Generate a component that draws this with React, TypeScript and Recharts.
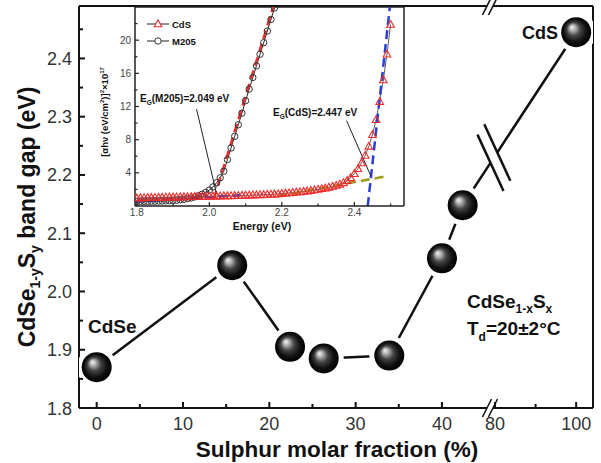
import React from 'react';
import { ComposedChart, Line, XAxis, YAxis, ReferenceLine } from 'recharts';

// main panel: band gap vs sulphur molar fraction
const sulphur = [0, 15.7, 22.4, 26.3, 33.9, 40, 42.4, 100];
const bandGap = [1.87, 2.045, 1.905, 1.885, 1.89, 2.057, 2.148, 2.445];
const xTickMajor = [0, 10, 20, 30, 40, 80, 100];
const xTickMinor = [5, 15, 25, 35, 90];
const yTickMajor = [1.8, 1.9, 2.0, 2.1, 2.2, 2.3, 2.4];
const yTickMinor = [1.85, 1.95, 2.05, 2.15, 2.25, 2.35, 2.45];

// inset: Tauc plot
const energyCdS = [
  1.8, 1.81, 1.82, 1.83, 1.84, 1.85, 1.86, 1.87, 1.88, 1.89, 1.9,
  1.91, 1.92, 1.93, 1.94, 1.95, 1.96, 1.97, 1.98, 1.99, 2.0,
  2.01, 2.02, 2.03, 2.04, 2.05, 2.06, 2.07, 2.08, 2.09, 2.1,
  2.11, 2.12, 2.13, 2.14, 2.15, 2.16, 2.17, 2.18, 2.19, 2.2,
  2.21, 2.22, 2.23, 2.24, 2.25, 2.26, 2.27, 2.28, 2.29, 2.3,
  2.31, 2.32, 2.33, 2.34, 2.35, 2.36, 2.37, 2.38, 2.39, 2.4,
  2.41, 2.42, 2.43, 2.44, 2.45, 2.46, 2.47, 2.48, 2.49, 2.5,
];
const tauCdS = [
  0.95, 0.97, 0.99, 1.0, 1.01, 1.02, 1.03, 1.04, 1.05, 1.06, 1.07,
  1.08, 1.09, 1.1, 1.11, 1.12, 1.13, 1.14, 1.15, 1.16, 1.17,
  1.18, 1.19, 1.2, 1.21, 1.22, 1.23, 1.25, 1.26, 1.27, 1.29,
  1.3, 1.32, 1.33, 1.35, 1.37, 1.39, 1.41, 1.43, 1.45, 1.5,
  1.55, 1.58, 1.62, 1.66, 1.7, 1.75, 1.8, 1.86, 1.93, 2.0,
  2.08, 2.16, 2.25, 2.36, 2.48, 2.62, 2.8, 3.05, 3.4, 3.9,
  4.5, 5.2, 6.1, 7.2, 8.6, 10.4, 12.6, 15.2, 18.3, 21.9,
];
const energyM205 = [
  1.8, 1.81, 1.82, 1.83, 1.84, 1.85, 1.86, 1.87, 1.88, 1.89,
  1.9, 1.91, 1.92, 1.93, 1.94, 1.95, 1.96, 1.97, 1.98, 1.99,
  2.0, 2.01, 2.02, 2.03, 2.04, 2.05, 2.06, 2.07, 2.08, 2.09,
  2.1, 2.11, 2.12, 2.13, 2.14, 2.15, 2.16, 2.17, 2.18,
];
const tauM205 = [
  0.55, 0.55, 0.56, 0.56, 0.57, 0.58, 0.59, 0.6, 0.62, 0.64,
  0.67, 0.7, 0.75, 0.81, 0.89, 0.98, 1.1, 1.24, 1.42, 1.64,
  1.92, 2.3, 2.8, 3.4, 4.2, 5.6, 7.0, 8.4, 9.8, 11.2,
  12.7, 14.1, 15.5, 16.9, 18.3, 19.7, 21.1, 22.5, 23.9,
];
// linear fits drawn as dashed lines [start, end]
const fitM205E = [2.012, 2.176];
const fitM205V = [0.8, 24];
const baseM205E = [1.795, 2.085];
const baseM205V = [0.5, 1.3];
const baseCdSE = [2.19, 2.49];
const baseCdSV = [1.2, 3.6];
const fitCdSE = [2.437, 2.498];
const fitCdSV = [0, 24];
const insetXTicks = [1.8, 1.9, 2.0, 2.1, 2.2, 2.3, 2.4, 2.5];
const insetXLabels = ['1.8', '', '2.0', '', '2.2', '', '2.4', ''];
const insetYTicks = [2, 4, 6, 8, 10, 12, 14, 16, 18, 20, 22];

const FONT = '"Liberation Sans", Arial, Helvetica, sans-serif';

// broken x axis: 0..45 linear, then 80..100 compressed
const pos = (s: number) => (s <= 50 ? s : 46.15 + (s - 80) * 0.47);

const LEFT = 79, RIGHT = 593, TOP = 6, BOTTOM = 408;
const XD = [-2.05, 57.5];
const YD = [1.8, 2.49];
const mx = (p: number) => LEFT + ((p - XD[0]) * (RIGHT - LEFT)) / (XD[1] - XD[0]);
const my = (v: number) => BOTTOM - ((v - YD[0]) * (BOTTOM - TOP)) / (YD[1] - YD[0]);
const px2p = (x: number) => XD[0] + ((x - LEFT) * (XD[1] - XD[0])) / (RIGHT - LEFT);
const py2v = (y: number) => YD[0] + ((BOTTOM - y) * (YD[1] - YD[0])) / (BOTTOM - TOP);

const mainData = sulphur.map((s, i) => ({ pos: pos(s), gap: bandGap[i] }));
const lowData = mainData.slice(0, 7);
const highData = mainData.slice(6);

const xTickInfo = [
  ...xTickMajor.map((v) => ({ pos: pos(v), label: String(v), major: true })),
  ...xTickMinor.map((v) => ({ pos: pos(v), label: '', major: false })),
];

// gap in the last segment
const P = { x: mx(highData[0].pos), y: my(highData[0].gap) };
const Q = { x: mx(highData[1].pos), y: my(highData[1].gap) };
const segLen = Math.hypot(Q.x - P.x, Q.y - P.y);
const T1 = 0.245, T2 = 0.305;
const segDash = `${T1 * segLen} ${(T2 - T1) * segLen} ${segLen}`;
const slash = (t: number, half: number) => {
  const cx = P.x + (Q.x - P.x) * t;
  const cy = P.y + (Q.y - P.y) * t;
  const dx = 0.42 * half, dy = 0.91 * half;
  return [
    { x: px2p(cx - dx), y: py2v(cy - dy) },
    { x: px2p(cx + dx), y: py2v(cy + dy) },
  ];
};
const axisSlash = (cx: number, cy: number) => [
  { x: px2p(cx - 4.5), y: py2v(cy + 9) },
  { x: px2p(cx + 4.5), y: py2v(cy - 9) },
];
const BREAK_A = 487, BREAK_B = 493;

const Ball = (props: any) => {
  const { cx, cy } = props;
  if (cx == null || cy == null) return null;
  return (
    <g>
      <circle cx={cx} cy={cy} r={20} fill="#fff" />
      <circle cx={cx} cy={cy} r={15} fill="url(#ballGrad)" />
    </g>
  );
};

const MainXTick = (props: any) => {
  const { x, y, payload } = props;
  const info = xTickInfo.find((t) => Math.abs(t.pos - payload.value) < 1e-6);
  if (!info) return null;
  return (
    <g>
      <line x1={x} y1={y} x2={x} y2={y - (info.major ? 6 : 4)} stroke="#111" strokeWidth={2} />
      {info.major && (
        <text x={x} y={y + 22} textAnchor="middle" fontSize={18} fill="#333" fontFamily={FONT}>
          {info.label}
        </text>
      )}
    </g>
  );
};

const MainYTick = (props: any) => {
  const { x, y, payload } = props;
  const major = yTickMajor.some((v) => Math.abs(v - payload.value) < 1e-6);
  return (
    <g>
      <line x1={x} y1={y} x2={x + (major ? 6 : 4)} y2={y} stroke="#111" strokeWidth={2} />
      {major && (
        <text x={x - 7} y={y + 6.5} textAnchor="end" fontSize={18} fill="#333" fontFamily={FONT}>
          {payload.value.toFixed(1)}
        </text>
      )}
    </g>
  );
};

const InsetXTick = (props: any) => {
  const { x, y, index } = props;
  const label = insetXLabels[index] ?? '';
  return (
    <g>
      <line x1={x} y1={y} x2={x} y2={y - (label ? 4 : 2.5)} stroke="#222" strokeWidth={1.2} />
      {label && (
        <text x={x} y={y + 10} textAnchor="middle" fontSize={10} fill="#444" fontFamily={FONT}>
          {label}
        </text>
      )}
    </g>
  );
};

const InsetYTick = (props: any) => {
  const { x, y, payload } = props;
  const major = payload.value % 4 === 0;
  return (
    <g>
      <line x1={x} y1={y} x2={x + (major ? 4 : 2.5)} y2={y} stroke="#222" strokeWidth={1.2} />
      {major && (
        <text x={x - 4} y={y + 3.5} textAnchor="end" fontSize={10} fill="#444" fontFamily={FONT}>
          {payload.value}
        </text>
      )}
    </g>
  );
};

const Triangle = (props: any) => {
  const { cx, cy } = props;
  if (cx == null || cy == null) return null;
  return (
    <polygon
      points={`${cx},${cy - 4} ${cx - 3.8},${cy + 2.8} ${cx + 3.8},${cy + 2.8}`}
      fill="none"
      stroke="#ee2a2a"
      strokeWidth={1.1}
    />
  );
};

const Ring = (props: any) => {
  const { cx, cy } = props;
  if (cx == null || cy == null) return null;
  return <circle cx={cx} cy={cy} r={3.2} fill="none" stroke="#333" strokeWidth={1} />;
};

const cdsData = energyCdS.map((e, i) => ({ e, v: tauCdS[i] }));
const m205Data = energyM205.map((e, i) => ({ e, v: tauM205[i] }));
const pair = (es: number[], vs: number[]) => es.map((e, i) => ({ e, v: vs[i] }));

const InsetChart = () => (
  <ComposedChart width={320} height={235} margin={{ top: 7, right: 11, bottom: 0, left: 0 }}>
    <XAxis
      type="number"
      dataKey="e"
      domain={[1.795, 2.537]}
      ticks={insetXTicks}
      interval={0}
      allowDataOverflow
      tickSize={0}
      tickMargin={0}
      height={29}
      tick={<InsetXTick />}
      axisLine={{ stroke: '#222', strokeWidth: 1.5 }}
    />
    <YAxis
      type="number"
      domain={[0, 24]}
      ticks={insetYTicks}
      interval={0}
      allowDataOverflow
      tickSize={0}
      tickMargin={0}
      width={40}
      tick={<InsetYTick />}
      axisLine={{ stroke: '#222', strokeWidth: 1.5 }}
    />
    <ReferenceLine y={24} stroke="#222" strokeWidth={1.5} ifOverflow="visible" />
    <ReferenceLine x={2.537} stroke="#222" strokeWidth={1.5} ifOverflow="visible" />
    <Line data={m205Data} dataKey="v" type="linear" stroke="#222" strokeWidth={1} dot={<Ring />} activeDot={false} isAnimationActive={false} />
    <Line data={cdsData} dataKey="v" type="linear" stroke="#333" strokeWidth={0.8} dot={<Triangle />} activeDot={false} isAnimationActive={false} />
    <Line data={pair(baseM205E, baseM205V)} dataKey="v" type="linear" stroke="#2a3fd2" strokeWidth={2.5} strokeDasharray="9 5" dot={false} activeDot={false} isAnimationActive={false} />
    <Line data={pair(fitM205E, fitM205V)} dataKey="v" type="linear" stroke="#e53030" strokeWidth={2.5} strokeDasharray="9 5" dot={false} activeDot={false} isAnimationActive={false} />
    <Line data={pair(baseCdSE, baseCdSV)} dataKey="v" type="linear" stroke="#9c9c1e" strokeWidth={2.5} strokeDasharray="9 5" dot={false} activeDot={false} isAnimationActive={false} />
    <Line data={pair(fitCdSE, fitCdSV)} dataKey="v" type="linear" stroke="#2a3fd2" strokeWidth={2.5} strokeDasharray="9 5" dot={false} activeDot={false} isAnimationActive={false} />
    <ReferenceLine segment={[{ x: 1.9647, y: 11.7 }, { x: 2.0198, y: 1.5 }]} stroke="#222" strokeWidth={1} ifOverflow="visible" />
    <ReferenceLine segment={[{ x: 2.3785, y: 10.3 }, { x: 2.4447, y: 3.7 }]} stroke="#222" strokeWidth={1} ifOverflow="visible" />
  </ComposedChart>
);

const MainChart = () => (
  <ComposedChart width={601} height={463} margin={{ top: TOP, right: 601 - RIGHT, bottom: 0, left: 0 }}>
    <XAxis
      type="number"
      dataKey="pos"
      domain={XD}
      ticks={xTickInfo.map((t) => t.pos)}
      interval={0}
      allowDataOverflow
      tickSize={0}
      tickMargin={0}
      height={463 - BOTTOM}
      tick={<MainXTick />}
      axisLine={false}
    />
    <YAxis
      type="number"
      domain={YD}
      ticks={[...yTickMajor, ...yTickMinor]}
      interval={0}
      allowDataOverflow
      tickSize={0}
      tickMargin={0}
      width={LEFT}
      tick={<MainYTick />}
      axisLine={{ stroke: '#111', strokeWidth: 2 }}
    />
    {/* frame with broken bottom/top edges */}
    <ReferenceLine segment={[{ x: XD[0], y: YD[0] }, { x: px2p(BREAK_A), y: YD[0] }]} stroke="#111" strokeWidth={2} ifOverflow="visible" />
    <ReferenceLine segment={[{ x: px2p(BREAK_B), y: YD[0] }, { x: XD[1], y: YD[0] }]} stroke="#111" strokeWidth={2} ifOverflow="visible" />
    <ReferenceLine segment={[{ x: XD[0], y: YD[1] }, { x: px2p(BREAK_A), y: YD[1] }]} stroke="#111" strokeWidth={2} ifOverflow="visible" />
    <ReferenceLine segment={[{ x: px2p(BREAK_B), y: YD[1] }, { x: XD[1], y: YD[1] }]} stroke="#111" strokeWidth={2} ifOverflow="visible" />
    <ReferenceLine x={XD[1]} stroke="#111" strokeWidth={2} ifOverflow="visible" />
    <ReferenceLine segment={axisSlash(BREAK_A, BOTTOM)} stroke="#111" strokeWidth={1.6} ifOverflow="visible" />
    <ReferenceLine segment={axisSlash(BREAK_B, BOTTOM)} stroke="#111" strokeWidth={1.6} ifOverflow="visible" />
    <ReferenceLine segment={axisSlash(BREAK_A, TOP)} stroke="#111" strokeWidth={1.6} ifOverflow="visible" />
    <ReferenceLine segment={axisSlash(BREAK_B, TOP)} stroke="#111" strokeWidth={1.6} ifOverflow="visible" />
    <Line data={lowData} dataKey="gap" type="linear" stroke="#111" strokeWidth={2.5} dot={false} activeDot={false} isAnimationActive={false} />
    <Line data={highData} dataKey="gap" type="linear" stroke="#111" strokeWidth={2.5} strokeDasharray={segDash} dot={false} activeDot={false} isAnimationActive={false} />
    <ReferenceLine segment={slash(T1, 31)} stroke="#111" strokeWidth={2.5} ifOverflow="visible" />
    <ReferenceLine segment={slash(T2, 31)} stroke="#111" strokeWidth={2.5} ifOverflow="visible" />
    <Line data={mainData} dataKey="gap" type="linear" stroke="none" dot={<Ball />} activeDot={false} isAnimationActive={false} />
  </ComposedChart>
);

const Overlay = () => (
  <svg width={601} height={463} style={{ position: 'absolute', left: 0, top: 0, pointerEvents: 'none' }} fontFamily={FONT}>
    {/* main axis titles */}
    <text transform="translate(35,217) rotate(-90)" textAnchor="middle" fontSize={23} fontWeight="bold" fill="#111">
      CdSe<tspan fontSize={14} dy={5}>1-y</tspan>
      <tspan dy={-5}>S</tspan>
      <tspan fontSize={14} dy={5}>y</tspan>
      <tspan dy={-5}> band gap (eV)</tspan>
    </text>
    <text x={337} y={457} textAnchor="middle" fontSize={22.5} fontWeight="bold" fill="#111">
      Sulphur molar fraction (%)
    </text>
    {/* point labels */}
    <text x={88} y={333} fontSize={19} fontWeight="bold" fill="#111">CdSe</text>
    <text x={522} y={39} fontSize={18} fontWeight="bold" fill="#111">CdS</text>
    <text x={467} y={308} fontSize={19} fontWeight="bold" fill="#111">
      CdSe<tspan fontSize={12} dy={5}>1-x</tspan>
      <tspan dy={-5}>S</tspan>
      <tspan fontSize={12} dy={5}>x</tspan>
    </text>
    <text x={467} y={335} fontSize={19} fontWeight="bold" fill="#111">
      T<tspan fontSize={12} dy={6}>d</tspan>
      <tspan dy={-6}>=20±2°C</tspan>
    </text>
    {/* inset titles */}
    <text x={262} y={230} textAnchor="middle" fontSize={10.5} fontWeight="bold" fill="#111">Energy (eV)</text>
    <text transform="translate(108,112) rotate(-90)" textAnchor="middle" fontSize={9.5} fontWeight="bold" fill="#111">
      [αhν (eV/cm<tspan fontSize={6} dy={-4}>2</tspan>
      <tspan dy={4}>)]</tspan>
      <tspan fontSize={6} dy={-4}>2</tspan>
      <tspan dy={4}>×10</tspan>
      <tspan fontSize={6} dy={-4}>17</tspan>
    </text>
    {/* inset legend */}
    <line x1={147} y1={24} x2={169} y2={24} stroke="#222" strokeWidth={1} />
    <polygon points="158,20 154.2,26.8 161.8,26.8" fill="#fff" stroke="#ee2a2a" strokeWidth={1.1} />
    <text x={172} y={27.5} fontSize={9.5} fontWeight="bold" fill="#111">CdS</text>
    <line x1={147} y1={41} x2={169} y2={41} stroke="#222" strokeWidth={1} />
    <circle cx={158} cy={41} r={3.2} fill="#fff" stroke="#333" strokeWidth={1} />
    <text x={172} y={44.5} fontSize={9.5} fontWeight="bold" fill="#111">M205</text>
    {/* inset annotations */}
    <text x={140} y={102} fontSize={10} fontWeight="bold" fill="#111">
      E<tspan fontSize={6.5} dy={3}>G</tspan>
      <tspan dy={-3}>(M205)=2.049 eV</tspan>
    </text>
    <text x={273} y={116} fontSize={10} fontWeight="bold" fill="#111">
      E<tspan fontSize={6.5} dy={3}>G</tspan>
      <tspan dy={-3}>(CdS)=2.447 eV</tspan>
    </text>
  </svg>
);

export default function App() {
  return (
    <div style={{ position: 'absolute', left: 0, top: 0, width: 601, height: 463, background: '#fff', fontFamily: FONT }}>
      <svg width={0} height={0} style={{ position: 'absolute' }}>
        <defs>
          <radialGradient id="ballGrad" cx="0.5" cy="0.5" r="0.5" fx="0.35" fy="0.32">
            <stop offset="0%" stopColor="#f4f4f4" />
            <stop offset="18%" stopColor="#b8b8b8" />
            <stop offset="45%" stopColor="#444" />
            <stop offset="75%" stopColor="#111" />
            <stop offset="100%" stopColor="#000" />
          </radialGradient>
        </defs>
      </svg>
      <div style={{ position: 'absolute', left: 0, top: 0 }}>
        <MainChart />
      </div>
      <div style={{ position: 'absolute', left: 95, top: 0 }}>
        <InsetChart />
      </div>
      <Overlay />
    </div>
  );
}
